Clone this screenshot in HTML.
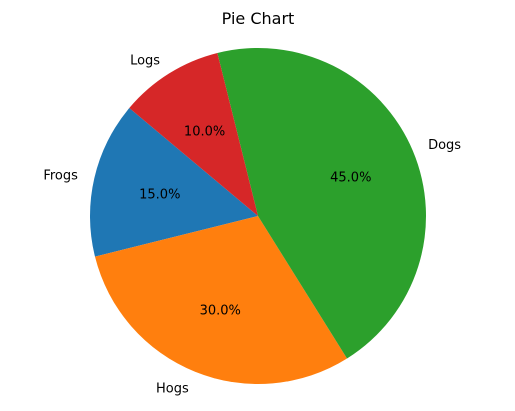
<!DOCTYPE html>
<html><head><meta charset="utf-8"><style>
body{margin:0;background:#fff;}
svg{display:block;font-family:"DejaVu Sans","Liberation Sans",sans-serif;}
</style></head><body>
<svg id="chart" width="515" height="411" viewBox="0 0 515 411">
<rect width="515" height="411" fill="#fff"/>
<text x="258" y="24" text-anchor="middle" font-size="16">Pie Chart</text>
<g id="slices"></g>
</svg>
<script>
const categories = ["Frogs","Hogs","Dogs","Logs"];
const values = [15,30,45,10];
const colors = ["#1f77b4","#ff7f0e","#2ca02c","#d62728"];
const startAngle = 140;
const cx = 258, cy = 216, r = 168;
const NS = "http://www.w3.org/2000/svg";
const g = document.getElementById("slices");
const total = values.reduce((a,b)=>a+b,0);
function pt(deg, rr){const a=deg*Math.PI/180;return [cx+rr*Math.cos(a), cy-rr*Math.sin(a)];}
let ang = startAngle;
categories.forEach((c,i)=>{
  const span = values[i]/total*360;
  const a0 = ang, a1 = ang+span;
  const p0 = pt(a0,r), p1 = pt(a1,r);
  const path = document.createElementNS(NS,"path");
  path.setAttribute("d",`M${cx},${cy} L${p0[0]},${p0[1]} A${r},${r} 0 ${span>180?1:0} 0 ${p1[0]},${p1[1]} Z`);
  path.setAttribute("fill",colors[i]);
  
  
  g.appendChild(path);
  const mid = (a0+a1)/2;
  const lp = pt(mid, r*1.1);
  const lt = document.createElementNS(NS,"text");
  lt.setAttribute("x",lp[0]); lt.setAttribute("y",lp[1]+5);
  lt.setAttribute("font-size","13");
  lt.setAttribute("text-anchor", Math.cos(mid*Math.PI/180)>0?"start":"end");
  lt.textContent = c;
  
  
  g.appendChild(lt);
  const pp = pt(mid, r*0.6);
  const pt2 = document.createElementNS(NS,"text");
  pt2.setAttribute("x",pp[0]); pt2.setAttribute("y",pp[1]+5);
  pt2.setAttribute("font-size","13");
  pt2.setAttribute("text-anchor","middle");
  pt2.textContent = (values[i]/total*100).toFixed(1)+"%";
  
  
  g.appendChild(pt2);
  ang = a1;
});
</script>
</body></html>
